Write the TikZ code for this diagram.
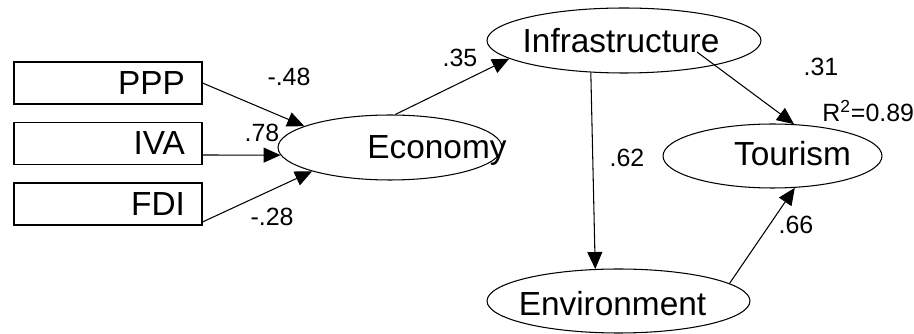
\documentclass[tikz,border=0pt]{standalone}
\usepackage{fontspec}
\setmainfont{Liberation Sans}
\usepackage{tikz}
\usetikzlibrary{arrows.meta,shapes.geometric}

\begin{document}
\begin{tikzpicture}[x=0.02cm,y=-0.02cm,
		every node/.style={font=\fontsize{19}{22}\selectfont},
		every label/.style={inner sep=0pt,text depth=0pt},
		obs/.style={draw,rectangle,line width=0.6pt,minimum width=3.76cm,minimum height=0.84cm,
			text width=3.08cm,align=right,inner xsep=0.34cm,inner ysep=0pt},
		lat/.style={draw,ellipse,line width=0.6pt,inner sep=0pt,minimum height=1.3cm},
		coef/.style={font=\fontsize{14.2}{16}\selectfont,inner sep=0pt},
		link/.style={line width=0.6pt,-{Triangle[length=0.34cm,width=0.3cm]}}]
	\useasboundingbox (0,0) rectangle (914,334);
	\node[obs] (ppp) at (108,83) {PPP};
	\node[obs] (iva) at (108,143.5) {IVA};
	\node[obs] (fdi) at (108,204) {FDI};
	\node[lat,minimum width=4.48cm,label={[xshift=0.94cm]center:Economy}] (eco) at (390,147.5) {};
	\node[lat,minimum width=5.48cm,label={[xshift=-0.06cm]center:Infrastructure}] (infra) at (624,40.5) {};
	\node[lat,minimum width=4.38cm,minimum height=1.28cm,label={[xshift=0.4cm,yshift=0.05cm]center:Tourism}] (tour) at (772.5,156) {};
	\node[lat,minimum width=5.26cm,minimum height=1.28cm,label={[xshift=-0.12cm,yshift=-0.04cm]center:Environment}] (env) at (618.5,301) {};
	\draw[link] (ppp.east) -- (eco.166);
	\draw[link] ([yshift=-0.23cm]iva.east) -- (eco.184);
	\draw[link] ([yshift=-0.36cm]fdi.east) -- (eco.197);
	\draw[link] (eco.81) -- (infra.189);
	\draw[link] ([xshift=1.46cm,yshift=-0.23cm]infra.center) -- (tour.56);
	\draw[link] (infra.224) -- (env.126);
	\draw[link] (env.9) -- (tour.305);
	\node[coef] (ppp-eco) at (289,77) {-.48};
	\node[coef] (iva-eco) at (262,132.5) {.78};
	\node[coef] (fdi-eco) at (272,217) {-.28};
	\node[coef] (eco-infra) at (460,58) {.35};
	\node[coef] (infra-tour) at (821,67) {.31};
	\node[coef] (infra-env) at (627,158) {.62};
	\node[coef] (env-tour) at (796,225) {.66};
	\node[coef,anchor=base west] (rsq) at (822,122) {R\textsuperscript{2}=0.89};
\end{tikzpicture}
\end{document}
